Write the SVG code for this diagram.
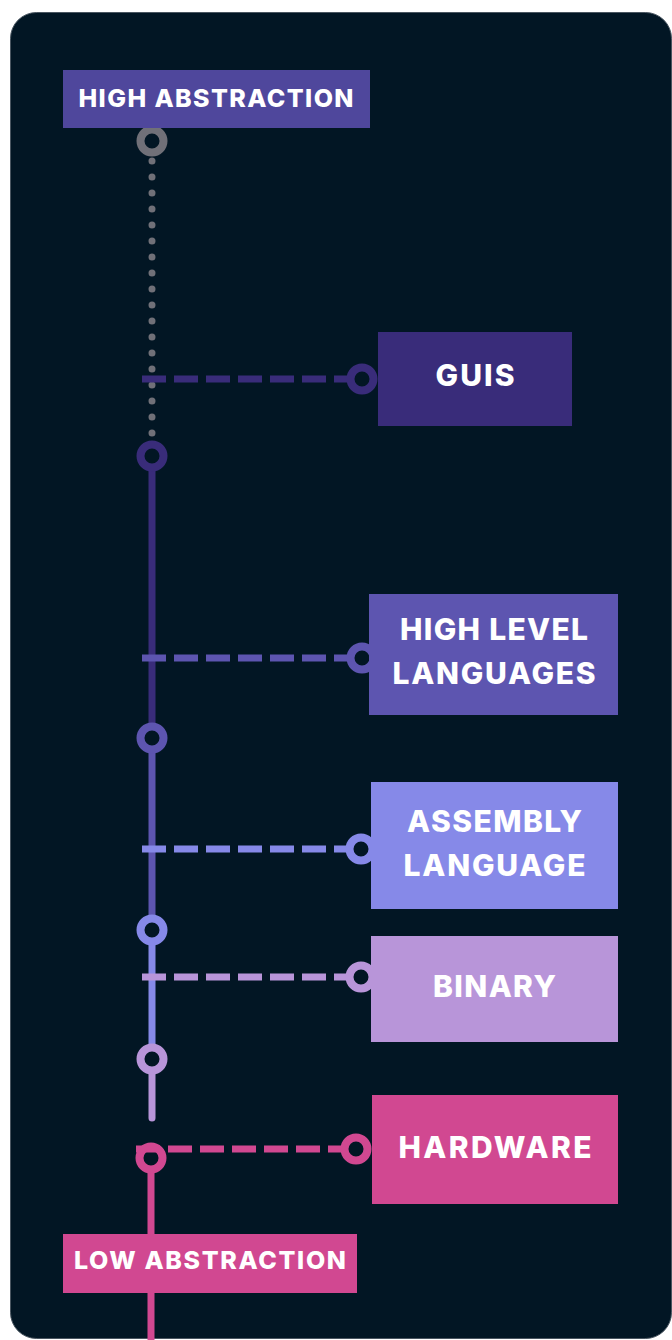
<svg xmlns="http://www.w3.org/2000/svg" width="672" height="1340" viewBox="0 0 672 1340">
<style>
.lbl{font-family:Inter,"Liberation Sans",sans-serif;font-weight:800;fill:#ffffff;text-anchor:middle}
.big{font-size:30px}
.tag{font-size:25px}
.ring{stroke-width:8;fill:#021624}
.dash{stroke-width:7;stroke-dasharray:24 8;fill:none}
.vline{stroke-width:7;fill:none}
</style>
<rect x="10.5" y="12.5" width="661" height="1326" rx="26" fill="#021624" stroke="#4a5661" stroke-width="1"/>
<g id="connectors">
  <line x1="152" y1="161" x2="152" y2="440" stroke="#707078" stroke-width="7" stroke-linecap="round" stroke-dasharray="0 16"/>
  <line class="vline" x1="152" y1="456" x2="152" y2="738" stroke="#392c7a"/>
  <line class="vline" x1="152" y1="738" x2="152" y2="930" stroke="#5d55b0"/>
  <line class="vline" x1="152" y1="930" x2="152" y2="1059" stroke="#8689e8"/>
  <line x1="152" y1="1059" x2="152" y2="1118" stroke="#b895d9" stroke-width="7" stroke-linecap="round"/>
  <line class="vline" x1="151" y1="1157" x2="151" y2="1345" stroke="#d14891"/>
  <circle class="ring" cx="152" cy="141" r="11.5" stroke="#707078"/>
  <circle class="ring" cx="152" cy="456" r="11.5" stroke="#392c7a"/>
  <circle class="ring" cx="152" cy="738" r="11.5" stroke="#5d55b0"/>
  <circle class="ring" cx="152" cy="930" r="11.5" stroke="#8689e8"/>
  <circle class="ring" cx="152" cy="1059" r="11.5" stroke="#b895d9"/>
  <circle class="ring" cx="151" cy="1158" r="11.5" stroke="#d14891"/>
  <circle class="ring" cx="362" cy="379" r="11.5" stroke="#392c7a"/>
  <circle class="ring" cx="362" cy="658" r="11.5" stroke="#5d55b0"/>
  <circle class="ring" cx="361" cy="849" r="11.5" stroke="#8689e8"/>
  <circle class="ring" cx="361" cy="977" r="11.5" stroke="#b895d9"/>
  <circle class="ring" cx="356" cy="1149" r="11.5" stroke="#d14891"/>
  <line class="dash" x1="142" y1="379" x2="352" y2="379" stroke="#392c7a"/>
  <line class="dash" x1="142" y1="658" x2="352" y2="658" stroke="#5d55b0"/>
  <line class="dash" x1="142" y1="849" x2="351" y2="849" stroke="#8689e8"/>
  <line class="dash" x1="142" y1="977" x2="351" y2="977" stroke="#b895d9"/>
  <line class="dash" x1="136" y1="1149" x2="346" y2="1149" stroke="#d14891"/>
</g>
<g id="high-abstraction">
  <rect x="63" y="70" width="307" height="58" fill="#4f479c"/>
  <text class="lbl tag" x="216" y="107" textLength="275" font-size="26">HIGH ABSTRACTION</text>
</g>
<g id="guis">
  <rect x="378" y="332" width="194" height="94" fill="#392c7a"/>
  <text class="lbl big" x="475" y="386" textLength="79">GUIS</text>
</g>
<g id="high-level-languages">
  <rect x="369" y="594" width="249" height="121" fill="#5d55b0"/>
  <text class="lbl big" x="494" y="640" textLength="188">HIGH LEVEL</text>
  <text class="lbl big" x="494" y="684" textLength="203">LANGUAGES</text>
</g>
<g id="assembly-language">
  <rect x="371" y="782" width="247" height="127" fill="#8689e8"/>
  <text class="lbl big" x="494.5" y="832" textLength="175">ASSEMBLY</text>
  <text class="lbl big" x="494.5" y="876" textLength="182">LANGUAGE</text>
</g>
<g id="binary">
  <rect x="371" y="936" width="247" height="106" fill="#b895d9"/>
  <text class="lbl big" x="494.5" y="997" textLength="123">BINARY</text>
</g>
<g id="hardware">
  <rect x="372" y="1095" width="246" height="109" fill="#d14891"/>
  <text class="lbl big" x="495" y="1158" textLength="193">HARDWARE</text>
</g>
<g id="low-abstraction">
  <rect x="63" y="1234" width="294" height="59" fill="#d14891"/>
  <text class="lbl tag" x="210" y="1269" textLength="272" font-size="24">LOW ABSTRACTION</text>
</g>
</svg>
